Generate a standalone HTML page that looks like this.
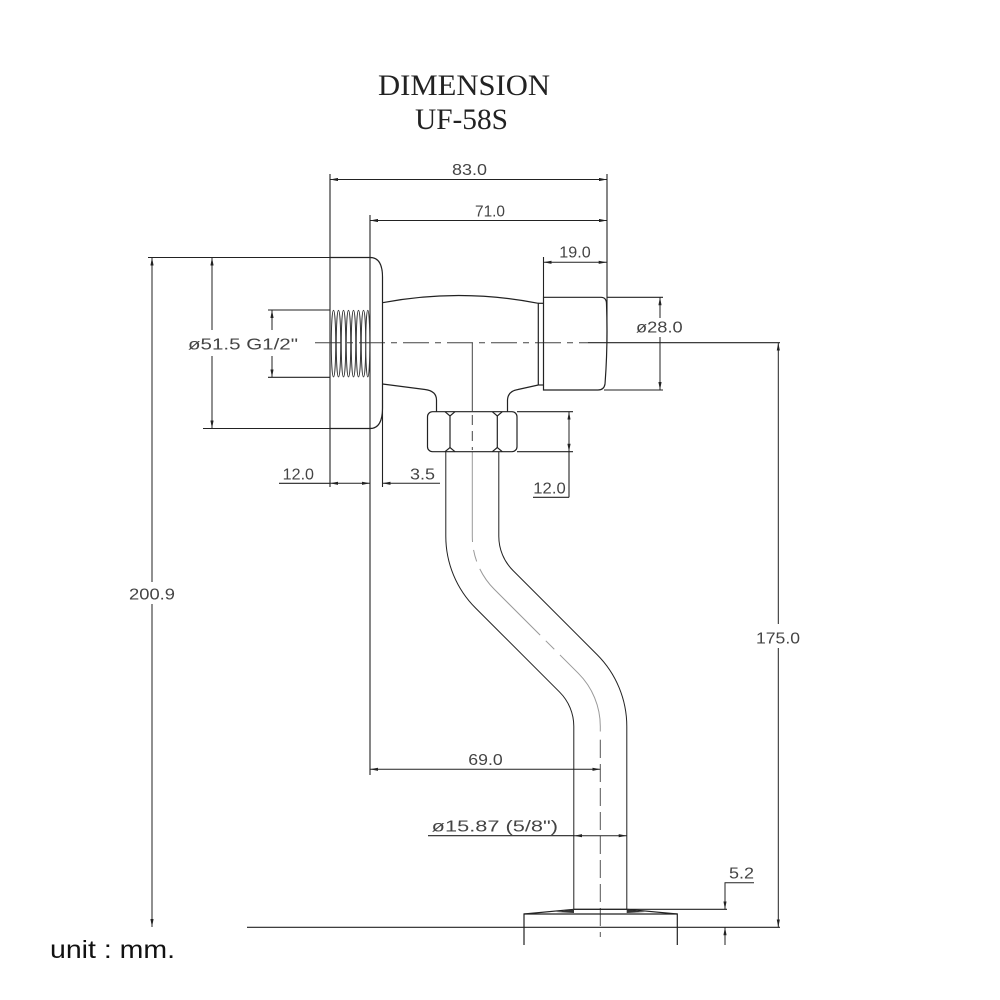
<!DOCTYPE html>
<html><head><meta charset="utf-8"><style>
html,body{margin:0;padding:0;background:#fff;}
svg{display:block;}
</style></head><body>
<svg width="1000" height="1000" viewBox="0 0 1000 1000" xmlns="http://www.w3.org/2000/svg">
<defs>
<marker id="a" viewBox="0 0 10 4" refX="10" refY="2" markerWidth="8" markerHeight="3.2" markerUnits="userSpaceOnUse" orient="auto-start-reverse"><path d="M0,0 L10,2 L0,4 z" fill="#222"/></marker>
</defs>
<rect width="1000" height="1000" fill="#fff"/>

<!-- Title -->
<g font-family="'Liberation Serif', serif" font-size="30" fill="#222">
<text x="378" y="95" textLength="172" lengthAdjust="spacingAndGlyphs">DIMENSION</text>
<text x="415" y="129" textLength="93" lengthAdjust="spacingAndGlyphs">UF-58S</text>
</g>

<!-- Pipe (outline via double stroke) -->
<path d="M472.3,451.7 L472.3,536.2 A75,75 0 0 0 494.27,589.27 L578.33,673.33 A75,75 0 0 1 600.3,726.37 L600.3,909.3" fill="none" stroke="#222" stroke-width="54"/>
<path d="M472.3,451.7 L472.3,536.2 A75,75 0 0 0 494.27,589.27 L578.33,673.33 A75,75 0 0 1 600.3,726.37 L600.3,909.3" fill="none" stroke="#fff" stroke-width="52"/>
<!-- pipe centerline -->
<path d="M472.3,452 L472.3,536.2 A75,75 0 0 0 494.27,589.27 L578.33,673.33 A75,75 0 0 1 600.3,726.37 L600.3,740" fill="none" stroke="#999" stroke-width="1" stroke-dasharray="90 8 12 8"/>
<path d="M600.3,740 V937" fill="none" stroke="#555" stroke-width="1" stroke-dasharray="18 6"/>

<!-- Extension lines & plain lines -->
<g fill="none" stroke="#222" stroke-width="1.1">
<path d="M330,174 V487"/>
<path d="M370,215 V775"/>
<path d="M607,174 V343"/>
<path d="M543.5,257 V297.3"/>
<path d="M148,257.5 H370"/>
<path d="M203,428.5 H330"/>
<path d="M268,310 H330"/>
<path d="M268,377.3 H330"/>
<path d="M607,297.3 H663"/>
<path d="M604,390 H663"/>
<path d="M517,411.7 H573"/>
<path d="M517,451.7 H573"/>
<path d="M382.5,400 V487"/>
<path d="M574,909.3 H727"/>
<path d="M247,927.3 H780"/>
<path d="M588,342.7 H780"/>
<path d="M279,483.3 H330"/>
<path d="M569,451.7 V497.3"/>
<path d="M533,497.3 H569"/>
<path d="M428,835.7 H574"/>
</g>

<!-- Dimension lines with arrows -->
<g fill="none" stroke="#222" stroke-width="1">
<path d="M330,179.5 H607" marker-start="url(#a)" marker-end="url(#a)"/>
<path d="M370,220.5 H607" marker-start="url(#a)" marker-end="url(#a)"/>
<path d="M543.5,262.3 H606.7" marker-start="url(#a)" marker-end="url(#a)"/>
<path d="M660,318 V297.3" marker-end="url(#a)"/>
<path d="M660,337 V390" marker-end="url(#a)"/>
<path d="M212,330 V257.5" marker-end="url(#a)"/>
<path d="M212,356 V428.5" marker-end="url(#a)"/>
<path d="M272,330 V310" marker-end="url(#a)"/>
<path d="M272,356 V377.3" marker-end="url(#a)"/>
<path d="M152,582 V257.5" marker-end="url(#a)"/>
<path d="M152,604 V927" marker-end="url(#a)"/>
<path d="M778.3,624 V342.7" marker-end="url(#a)"/>
<path d="M778.3,648 V927.3" marker-end="url(#a)"/>
<path d="M330,483.3 H370" marker-start="url(#a)" marker-end="url(#a)"/>
<path d="M440,483.3 H382.5" marker-end="url(#a)"/>
<path d="M569,411.7 V451.7" marker-start="url(#a)" marker-end="url(#a)"/>
<path d="M370,769.3 H600.3" marker-start="url(#a)" marker-end="url(#a)"/>
<path d="M574,835.7 H626.7" marker-start="url(#a)" marker-end="url(#a)"/>
<path d="M754,882.7 H725 V909.3" marker-end="url(#a)"/>
<path d="M725,945 V927.3" marker-end="url(#a)"/>
</g>

<!-- Centerlines -->
<path d="M315,342.7 H588" fill="none" stroke="#444" stroke-width="1" stroke-dasharray="26 6 6 6"/>
<path d="M472.3,342.7 V411" fill="none" stroke="#444" stroke-width="1"/>

<!-- Parts -->
<g fill="none" stroke="#222" stroke-width="1.2">
<!-- flange -->
<path d="M330,257.5 H370 Q382.5,257.5 382.5,277 V408 Q382.5,428.5 370,428.5 H330"/>
<!-- body -->
<path d="M382.5,302.7 Q460,288 538.3,303.3 V385"/>
<path d="M382.5,384 L425,389.5 Q436.5,391 436.5,400 V411.7"/>
<path d="M507.5,411.7 V400 Q508,391 518,389.5 L538.3,385"/>
<path d="M538.3,303.3 H543.5"/>
<path d="M538.3,385 H543.5"/>
<!-- cap nut -->
<path d="M543.5,297.3 H601 Q606.5,297.3 606.5,304 Q608,345 605,384 Q604,390 598,390 H543.5 Z"/>
<!-- hex nut -->
<rect x="427.5" y="411.7" width="89.5" height="40" rx="5" fill="#fff"/>
<path d="M450,416 V447.5 M497.3,416 V447.5"/>
<path d="M445,411.7 L450,416 L455,411.7 M492.3,411.7 L497.3,416 L502.3,411.7"/>
<path d="M445,451.7 L450,447.5 L455,451.7 M492.3,451.7 L497.3,447.5 L502.3,451.7"/>
<!-- base -->
<path d="M524,945 V914 H677.3 V945"/>
<path d="M524,914 L574,909.3 M626.7,909.3 L677.3,914"/>
<path d="M574,909.3 H626.7"/>
</g>
<path d="M472.3,415 V450" fill="none" stroke="#444" stroke-width="1" stroke-dasharray="10 6"/>
<polygon points="574,909.3 556,912 574,913" fill="#333"/>
<polygon points="626.7,909.3 645,912 626.7,913" fill="#333"/>

<!-- thread -->
<g fill="none" stroke="#333" stroke-width="0.9">
<ellipse cx="333.5" cy="343.6" rx="2.2" ry="33.3"/>
<ellipse cx="338.5" cy="343.6" rx="2.2" ry="33.3"/>
<ellipse cx="343.5" cy="343.6" rx="2.2" ry="33.3"/>
<ellipse cx="348.5" cy="343.6" rx="2.2" ry="33.3"/>
<ellipse cx="353.5" cy="343.6" rx="2.2" ry="33.3"/>
<ellipse cx="358.5" cy="343.6" rx="2.2" ry="33.3"/>
<ellipse cx="363.5" cy="343.6" rx="2.2" ry="33.3"/>
<ellipse cx="367.8" cy="343.6" rx="2" ry="33.3"/>
</g>

<!-- Dimension text -->
<g font-family="'Liberation Sans', sans-serif" font-size="16" fill="#444">
<text x="452" y="175" textLength="35" lengthAdjust="spacingAndGlyphs">83.0</text>
<text x="475" y="216.7" textLength="30" lengthAdjust="spacingAndGlyphs">71.0</text>
<text x="559.3" y="257.7" textLength="31.4" lengthAdjust="spacingAndGlyphs">19.0</text>
<text x="636" y="332.7" textLength="46.7" lengthAdjust="spacingAndGlyphs">ø28.0</text>
<text x="188" y="349.3" textLength="110" lengthAdjust="spacingAndGlyphs">ø51.5  G1/2"</text>
<text x="282.7" y="479.3" textLength="31.3" lengthAdjust="spacingAndGlyphs">12.0</text>
<text x="410" y="479.3" textLength="25" lengthAdjust="spacingAndGlyphs">3.5</text>
<text x="533.3" y="493.3" textLength="32.4" lengthAdjust="spacingAndGlyphs">12.0</text>
<text x="129" y="599.3" textLength="46" lengthAdjust="spacingAndGlyphs">200.9</text>
<text x="756" y="643.3" textLength="44" lengthAdjust="spacingAndGlyphs">175.0</text>
<text x="468.3" y="765" textLength="34.4" lengthAdjust="spacingAndGlyphs">69.0</text>
<text x="431.7" y="831.7" textLength="126.3" lengthAdjust="spacingAndGlyphs">ø15.87  (5/8")</text>
<text x="729" y="878.3" textLength="25" lengthAdjust="spacingAndGlyphs">5.2</text>
</g>

<text x="50" y="958" font-family="'Liberation Sans', sans-serif" font-size="25" fill="#111" textLength="125" lengthAdjust="spacingAndGlyphs">unit : mm.</text>
</svg>
</body></html>
